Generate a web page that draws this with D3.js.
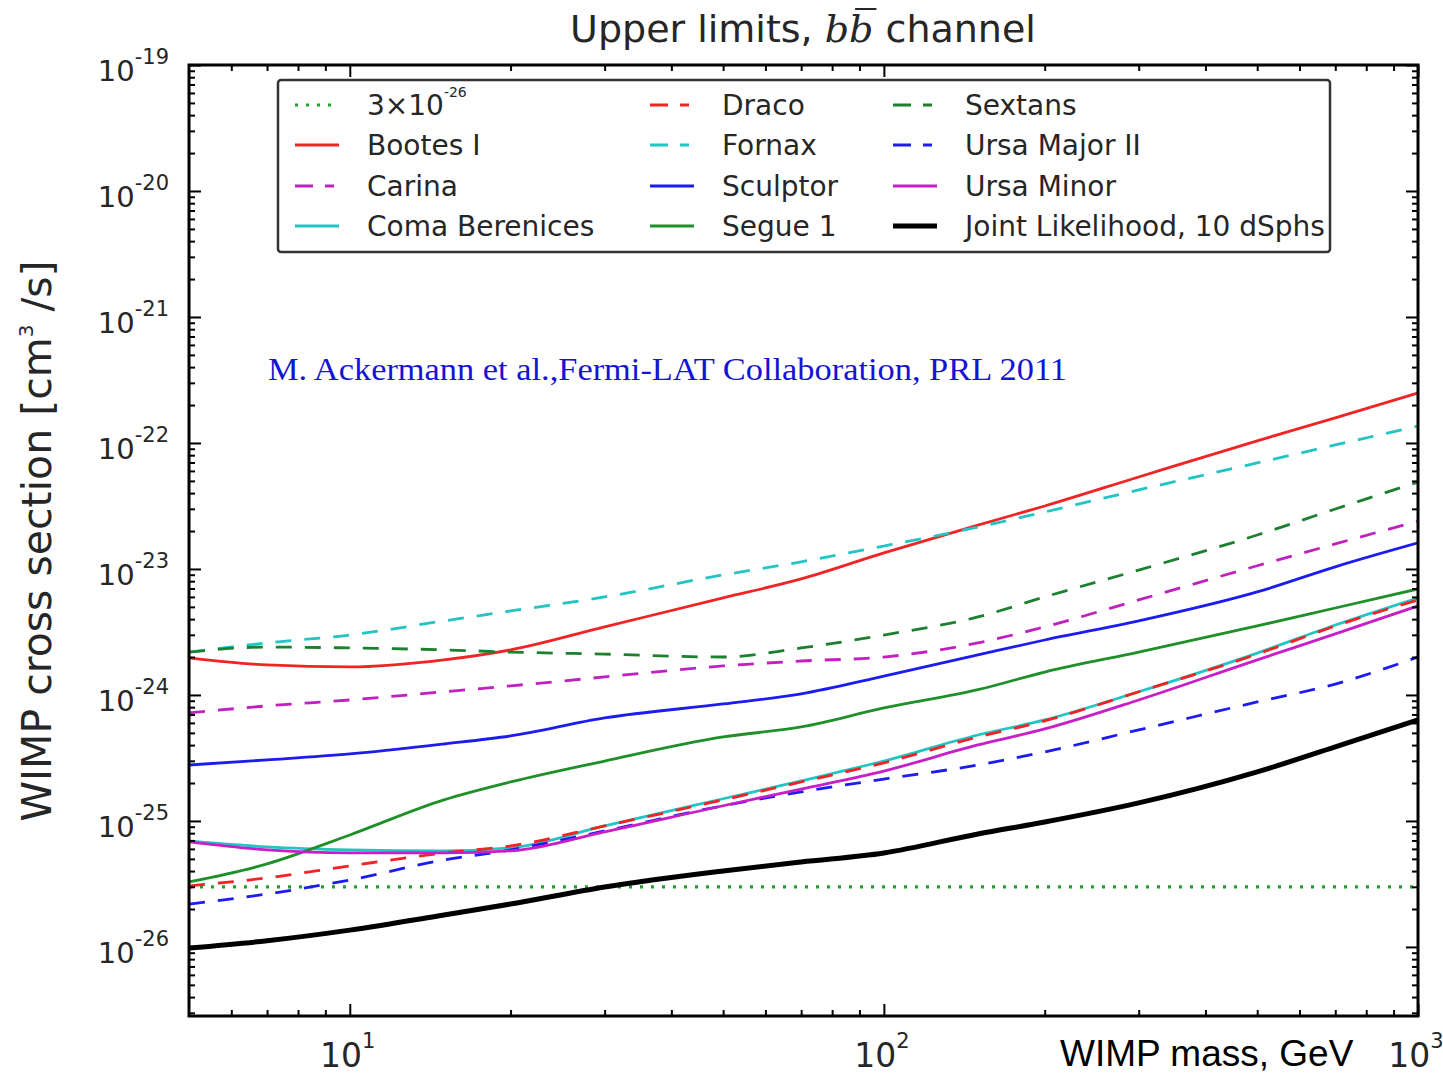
<!DOCTYPE html>
<html>
<head>
<script src="https://d3js.org/d3.v7.min.js"></script>
<style>
  body { margin: 0; background: #fff; }
  .tick line { stroke: #000; }
</style>
</head>
<body>
<svg width="1443" height="1076"></svg>
<script>
// WIMP mass (GeV) sampling points shared by all curves
const masses = [5, 7, 10, 15, 20, 30, 50, 70, 100, 150, 200, 300, 500, 700, 1000];

// upper limits on <sigma v> (cm^3/s)
const bootesI = [1.97e-24, 1.73e-24, 1.67e-24, 1.90e-24, 2.28e-24, 3.47e-24, 5.89e-24, 8.33e-24, 1.34e-23, 2.23e-23, 3.16e-23, 5.37e-23, 1.04e-22, 1.58e-22, 2.49e-22];
const carina = [7.20e-25, 8.19e-25, 9.12e-25, 1.06e-24, 1.18e-24, 1.39e-24, 1.70e-24, 1.86e-24, 2.00e-24, 2.59e-24, 3.47e-24, 5.68e-24, 1.06e-23, 1.58e-23, 2.40e-23];
const comaBerenices = [6.94e-26, 6.22e-26, 5.89e-26, 5.78e-26, 6.11e-26, 9.12e-26, 1.50e-25, 2.08e-25, 2.99e-25, 4.81e-25, 6.33e-25, 1.06e-24, 2.15e-24, 3.59e-24, 5.89e-24];
const draco = [3.05e-26, 3.53e-26, 4.40e-26, 5.57e-26, 6.33e-26, 9.12e-26, 1.47e-25, 2.04e-25, 2.89e-25, 4.64e-25, 6.22e-25, 1.06e-24, 2.11e-24, 3.53e-24, 5.68e-24];
const fornax = [2.19e-24, 2.59e-24, 2.99e-24, 3.87e-24, 4.64e-24, 6.00e-24, 8.97e-24, 1.14e-23, 1.52e-23, 2.15e-23, 2.83e-23, 4.24e-23, 6.94e-23, 9.64e-23, 1.36e-22];
const sculptor = [2.78e-25, 3.05e-25, 3.40e-25, 4.08e-25, 4.73e-25, 6.57e-25, 8.48e-25, 1.02e-24, 1.41e-24, 2.08e-24, 2.73e-24, 3.87e-24, 6.57e-24, 1.04e-23, 1.61e-23];
const segue1 = [3.28e-26, 4.56e-26, 7.74e-26, 1.47e-25, 2.04e-25, 2.99e-25, 4.64e-25, 5.57e-25, 7.88e-25, 1.10e-24, 1.52e-24, 2.19e-24, 3.53e-24, 4.90e-24, 6.94e-24];
const sextans = [2.19e-24, 2.40e-24, 2.36e-24, 2.28e-24, 2.19e-24, 2.11e-24, 2.00e-24, 2.36e-24, 2.99e-24, 4.16e-24, 6.00e-24, 9.80e-24, 1.86e-23, 2.99e-23, 4.90e-23];
const ursaMajorII = [2.19e-26, 2.63e-26, 3.40e-26, 4.90e-26, 5.89e-26, 8.33e-26, 1.32e-25, 1.70e-25, 2.15e-25, 2.78e-25, 3.53e-25, 5.28e-25, 8.80e-25, 1.22e-24, 2.00e-24];
const ursaMinor = [6.82e-26, 5.89e-26, 5.57e-26, 5.57e-26, 5.78e-26, 8.19e-26, 1.32e-25, 1.79e-25, 2.49e-25, 4.01e-25, 5.37e-25, 9.12e-25, 1.90e-24, 3.05e-24, 5.09e-24];
const jointLikelihood = [9.8e-27, 1.12e-26, 1.36e-26, 1.79e-26, 2.19e-26, 2.99e-26, 4.01e-26, 4.73e-26, 5.57e-26, 7.88e-26, 9.8e-26, 1.39e-25, 2.45e-25, 3.87e-25, 6.33e-25];
const thermalRate = 3e-26;

// axis ticks and labels
const xMajorTicks = [10, 100, 1000];
const xTickExps = ["1", "2", "3"];
const yMajorTicks = [1e-26, 1e-25, 1e-24, 1e-23, 1e-22, 1e-21, 1e-20, 1e-19];
const yTickExps = ["-26", "-25", "-24", "-23", "-22", "-21", "-20", "-19"];

const red = "#f02424", cyan = "#22c4c4", magenta = "#c020c0",
      blue = "#1c1cf0", green = "#1f8f2a", dash = "16,13";

const series = [
  {name: "3×10", sup: "-26", values: masses.map(() => thermalRate), color: "#22a02a", dash: "3,8", w: 3.2},
  {name: "Bootes I", values: bootesI, color: red, dash: null, w: 2.8},
  {name: "Carina", values: carina, color: magenta, dash: dash, w: 2.8},
  {name: "Coma Berenices", values: comaBerenices, color: cyan, dash: null, w: 2.8},
  {name: "Draco", values: draco, color: red, dash: dash, w: 2.8},
  {name: "Fornax", values: fornax, color: cyan, dash: dash, w: 2.8},
  {name: "Sculptor", values: sculptor, color: blue, dash: null, w: 2.8},
  {name: "Segue 1", values: segue1, color: green, dash: null, w: 2.8},
  {name: "Sextans", values: sextans, color: "#1d7f30", dash: dash, w: 2.8},
  {name: "Ursa Major II", values: ursaMajorII, color: blue, dash: dash, w: 2.8},
  {name: "Ursa Minor", values: ursaMinor, color: "#c81ec8", dash: null, w: 2.8},
  {name: "Joint Likelihood, 10 dSphs", values: jointLikelihood, color: "#000", dash: null, w: 5}
];

const svg = d3.select("svg");
const plotLeft = 189, plotRight = 1418, plotTop = 65, plotBottom = 1016;
const font = "'DejaVu Sans', sans-serif";
const textCol = "#262626";

const x = d3.scaleLog().domain([5, 1000]).range([plotLeft, plotRight]);
const y = d3.scaleLog().domain([2.83e-27, 1e-19]).range([plotBottom, plotTop]);

svg.append("defs").append("clipPath").attr("id", "plot")
  .append("rect").attr("x", plotLeft).attr("y", plotTop)
  .attr("width", plotRight - plotLeft).attr("height", plotBottom - plotTop);

// curves
const line = d3.line()
  .x((d, i) => x(masses[i]))
  .y(d => y(d))
  .curve(d3.curveMonotoneX);

svg.append("g").attr("clip-path", "url(#plot)")
  .selectAll("path")
  .data(series)
  .join("path")
  .attr("d", d => line(d.values))
  .attr("fill", "none")
  .attr("stroke", d => d.color)
  .attr("stroke-width", d => d.w)
  .attr("stroke-dasharray", d => d.dash)
  .attr("stroke-linejoin", "round");

// ticks on all four sides, pointing inwards
const xMinor = x.ticks().filter(v => xMajorTicks.indexOf(v) < 0 && v > 5);
const yMinor = y.ticks().filter(v => Math.abs(Math.log10(v) - Math.round(Math.log10(v))) > 1e-6);

function tickAxis(axis, tx, ty, values, size, width) {
  const g = svg.append("g")
    .attr("transform", "translate(" + tx + "," + ty + ")")
    .call(axis.tickValues(values).tickSize(-size).tickFormat(""));
  g.select(".domain").remove();
  g.selectAll(".tick line").attr("stroke-width", width);
}
tickAxis(d3.axisBottom(x), 0, plotBottom, xMajorTicks, 12, 2);
tickAxis(d3.axisBottom(x), 0, plotBottom, xMinor, 6, 2);
tickAxis(d3.axisTop(x), 0, plotTop, xMajorTicks, 12, 2);
tickAxis(d3.axisTop(x), 0, plotTop, xMinor, 6, 2);
tickAxis(d3.axisLeft(y), plotLeft, 0, yMajorTicks, 12, 2);
tickAxis(d3.axisLeft(y), plotLeft, 0, yMinor, 6, 2);
tickAxis(d3.axisRight(y), plotRight, 0, yMajorTicks, 12, 2);
tickAxis(d3.axisRight(y), plotRight, 0, yMinor, 6, 2);

svg.append("rect")
  .attr("x", plotLeft).attr("y", plotTop)
  .attr("width", plotRight - plotLeft).attr("height", plotBottom - plotTop)
  .attr("fill", "none").attr("stroke", "#000").attr("stroke-width", 3);

// tick labels with superscript exponents
svg.selectAll(".ylab")
  .data(yMajorTicks)
  .join("text")
  .attr("class", "ylab")
  .attr("x", 169)
  .attr("y", d => y(d) + 16)
  .attr("text-anchor", "end")
  .attr("font-family", font)
  .attr("font-size", 29)
  .attr("fill", textCol)
  .each(function (d, i) {
    const t = d3.select(this);
    t.append("tspan").text("10");
    t.append("tspan").attr("dy", -17).attr("font-size", 21).text(yTickExps[i]);
  });

svg.selectAll(".xlab")
  .data(xMajorTicks)
  .join("text")
  .attr("class", "xlab")
  .attr("x", d => x(d) - 2)
  .attr("y", 1067)
  .attr("text-anchor", "middle")
  .attr("font-family", font)
  .attr("font-size", 33)
  .attr("fill", textCol)
  .each(function (d, i) {
    const t = d3.select(this);
    t.append("tspan").text("10");
    t.append("tspan").attr("dy", -19).attr("font-size", 21).text(xTickExps[i]);
  });

// axis titles
svg.append("text")
  .attr("x", 1060).attr("y", 1066)
  .attr("font-family", "'Liberation Sans', Arial, sans-serif")
  .attr("font-size", 37)
  .attr("fill", "#000")
  .text("WIMP mass, GeV");

const yTitle = svg.append("text")
  .attr("transform", "translate(51,541) rotate(-90)")
  .attr("text-anchor", "middle")
  .attr("font-family", font)
  .attr("font-size", 41)
  .attr("fill", textCol);
yTitle.append("tspan").text("WIMP cross section [cm");
yTitle.append("tspan").attr("dy", -18).attr("font-size", 20).text("3");
yTitle.append("tspan").attr("dy", 18).text(" /s]");

// chart title
const title = svg.append("text")
  .attr("x", 803).attr("y", 42)
  .attr("text-anchor", "middle")
  .attr("font-family", font)
  .attr("font-size", 38)
  .attr("fill", textCol);
title.append("tspan").text("Upper limits, ");
title.append("tspan")
  .attr("font-family", "'DejaVu Serif', serif")
  .attr("font-style", "italic")
  .text("bb");
title.append("tspan").text(" channel");
const tn = title.node();
const b0 = tn.getStartPositionOfChar(15), b1 = tn.getEndPositionOfChar(15);
svg.append("line")
  .attr("x1", b0.x + 6).attr("x2", b1.x + 3)
  .attr("y1", 9).attr("y2", 9)
  .attr("stroke", textCol).attr("stroke-width", 2);

// reference note
svg.append("text")
  .attr("x", 268).attr("y", 380)
  .attr("font-family", "'Liberation Serif', serif")
  .attr("font-size", 31)
  .attr("fill", "#1414d4")
  .attr("textLength", 799)
  .attr("lengthAdjust", "spacingAndGlyphs")
  .text("M. Ackermann et al.,Fermi-LAT Collaboration, PRL 2011");

// legend
svg.append("rect")
  .attr("x", 278).attr("y", 80)
  .attr("width", 1052).attr("height", 172)
  .attr("rx", 3)
  .attr("fill", "#fff")
  .attr("stroke", "#333").attr("stroke-width", 2.5);

const colX = [295, 650, 893];
const rowY = [105, 145, 186, 226];

const items = svg.append("g").selectAll("g")
  .data(series)
  .join("g")
  .attr("transform", (d, i) => "translate(" + colX[Math.floor(i / 4)] + "," + rowY[i % 4] + ")");

items.append("line")
  .attr("x1", 0).attr("x2", d => d.dash === dash ? 39 : 44)
  .attr("y1", 0).attr("y2", 0)
  .attr("stroke", d => d.color)
  .attr("stroke-width", d => d.w)
  .attr("stroke-dasharray", d => d.dash === dash ? "18,12" : d.dash);

items.append("text")
  .attr("x", 72).attr("y", 10)
  .attr("font-family", font)
  .attr("font-size", 28)
  .attr("fill", textCol)
  .each(function (d) {
    const t = d3.select(this);
    t.append("tspan").text(d.name);
    if (d.sup) t.append("tspan").attr("dy", -18).attr("font-size", 14).text(d.sup);
  });
</script>
</body>
</html>
